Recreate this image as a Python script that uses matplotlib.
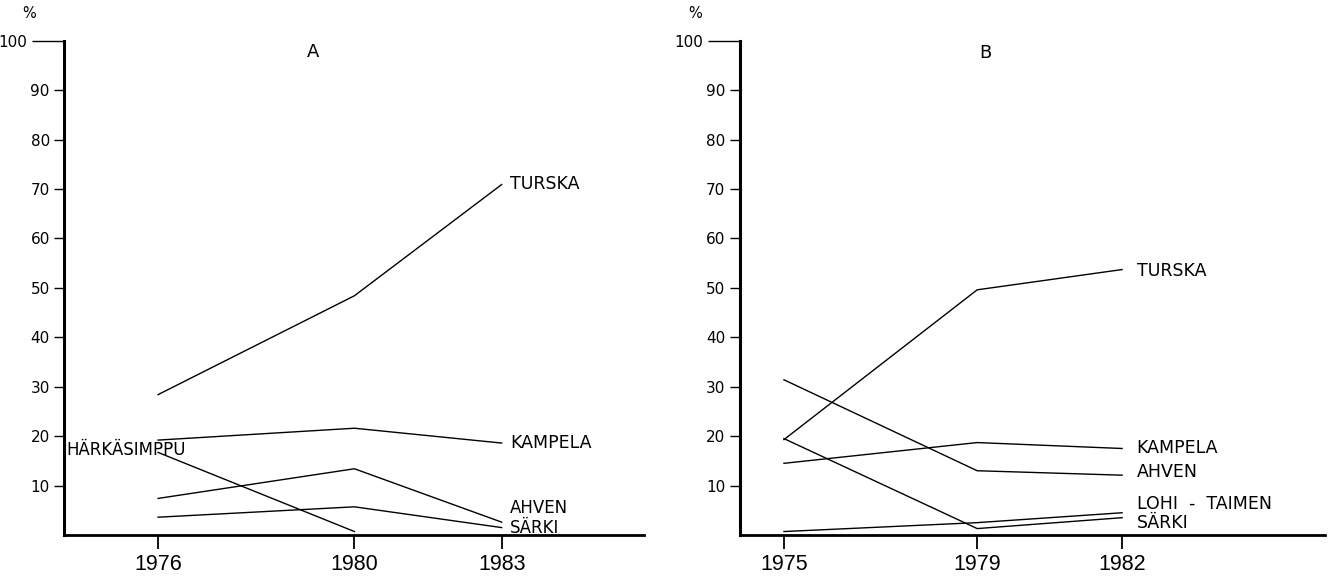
import matplotlib
matplotlib.use("Agg")
import matplotlib.pyplot as plt

# ---------------- data ----------------
years_A = [1976, 1980, 1983]
turska_A = [28.4, 48.4, 70.9]
kampela_A = [19.2, 21.6, 18.6]
ahven_A = [7.4, 13.4, 2.6]
sarki_A = [3.6, 5.7, 1.5]
years_harka_A = [1976, 1980]
harkasimppu_A = [16.7, 0.7]

years_B = [1975, 1979, 1982]
turska_B = [19.3, 49.6, 53.7]
kampela_B = [14.5, 18.7, 17.5]
ahven_B = [31.4, 13.0, 12.1]
lohi_B = [0.7, 2.5, 4.5]
sarki_B = [19.5, 1.3, 3.5]

yticks = [10, 20, 30, 40, 50, 60, 70, 80, 90]
yticklabels = ["10", "20", "30", "40", "50", "60", "70", "80", "90"]

# ---------------- style ----------------
LABEL_FONT = ["DejaVu Sans"]
YEAR_FONT = ["Liberation Sans", "DejaVu Sans"]
LW = 1.0

fig = plt.figure(figsize=(13.35, 5.78), dpi=100)
axA = fig.add_axes([0.0482, 0.0744, 0.4342, 0.8552])
axB = fig.add_axes([0.5543, 0.0744, 0.4382, 0.8552])


def style_axes(ax, years, xlim, pct_dx):
    ax.set_xlim(*xlim)
    ax.set_ylim(0, 100)
    for s in ("top", "right"):
        ax.spines[s].set_visible(False)
    ax.spines["left"].set_linewidth(2.2)
    ax.spines["bottom"].set_linewidth(2.0)
    ax.set_yticks(yticks)
    ax.set_yticklabels(yticklabels, family=LABEL_FONT, fontsize=11)
    ax.set_yticks([100], minor=True)
    ax.set_yticklabels(["100"], minor=True, family=LABEL_FONT, fontsize=11)
    ax.tick_params(axis="y", which="major", length=7, width=1.0, pad=3.5)
    ax.tick_params(axis="y", which="minor", length=23, width=1.0, pad=3.5)
    ax.set_xticks(years)
    ax.set_xticklabels([str(y) for y in years], family=YEAR_FONT, fontsize=15.5)
    ax.tick_params(axis="x", which="major", length=10, width=1.3, pad=4, direction="out")
    ax.annotate("%", xy=(0, 1), xycoords="axes fraction", xytext=(pct_dx, 27),
                textcoords="offset pixels", ha="center", va="center",
                fontsize=10.5, family=LABEL_FONT)


style_axes(axA, years_A, (1974.09, 1985.9), -35)
style_axes(axB, years_B, (1974.09, 1986.2), -45)

# ---------------- panel A ----------------
for vals in (turska_A, kampela_A, ahven_A, sarki_A):
    axA.plot(years_A, vals, color="black", lw=LW)
axA.plot(years_harka_A, harkasimppu_A, color="black", lw=LW)

lab_kw = dict(ha="left", va="center", fontsize=12.5, family=LABEL_FONT, color="black")
small_kw = dict(lab_kw, fontsize=12)
xA = years_A[-1] + 0.17
axA.text(xA, 71.0, "TURSKA", **lab_kw)
axA.text(xA, 18.6, "KAMPELA", **lab_kw)
axA.text(xA, 5.4, "AHVEN", **small_kw)
axA.text(xA, 1.4, "SÄRKI", **small_kw)
axA.text(1974.13, 17.1, "HÄRKÄSIMPPU", ha="left", va="center", fontsize=12,
         family=LABEL_FONT, color="black")
axA.text(1979.16, 97.7, "A", ha="center", va="center", fontsize=13, family=LABEL_FONT)

# ---------------- panel B ----------------
for vals in (turska_B, kampela_B, ahven_B, lohi_B, sarki_B):
    axB.plot(years_B, vals, color="black", lw=LW)

xB = years_B[-1] + 0.3
axB.text(xB, 53.5, "TURSKA", **lab_kw)
axB.text(xB, 17.7, "KAMPELA", **lab_kw)
axB.text(xB, 12.8, "AHVEN", **lab_kw)
axB.text(xB, 6.3, "LOHI  -  TAIMEN", **lab_kw)
axB.text(xB, 2.4, "SÄRKI", **lab_kw)
axB.text(1979.16, 97.6, "B", ha="center", va="center", fontsize=13, family=LABEL_FONT)

fig.savefig("out.png", dpi=100)
